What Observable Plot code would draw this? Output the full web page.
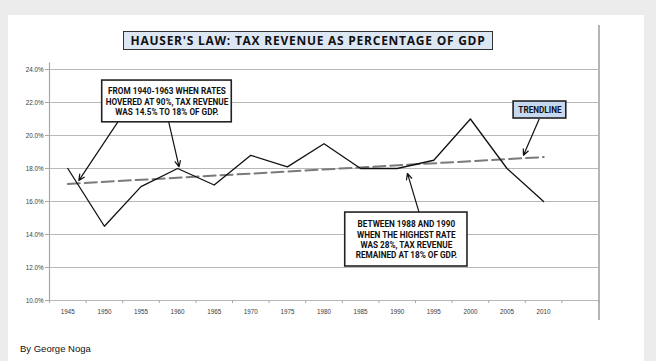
<!DOCTYPE html>
<html>
<head>
<meta charset="utf-8">
<script src="https://cdn.jsdelivr.net/npm/d3@7"></script>
<script src="https://cdn.jsdelivr.net/npm/@observablehq/plot@0.6"></script>
<style>
  html, body { margin: 0; padding: 0; }
  body { width: 656px; height: 361px; background: #ececec; position: relative; overflow: hidden; }
  #panel { position: absolute; left: 8px; top: 15px; width: 636px; height: 346px; background: #fff; }
  #frame { position: absolute; left: 598px; top: 25px; width: 1.5px; height: 295px; background: #b5b5b5; }
  #chart { position: absolute; left: 0; top: 0; }
  #title { position: absolute; left: 123px; top: 31px; width: 368px; height: 17px; border: 1px solid #333;
           background: #dde7f4; font: bold 12px "Open Sans", sans-serif; letter-spacing: 0.75px;
           text-align: center; line-height: 17px; color: #111; white-space: nowrap; }
  #caption { position: absolute; left: 20px; top: 343px; font: 9.5px "Liberation Sans", Arial, sans-serif; color: #111; }
</style>
</head>
<body>
<div id="panel"></div>
<div id="frame"></div>
<div id="chart"></div>
<div id="title">HAUSER'S LAW: TAX REVENUE AS PERCENTAGE OF GDP</div>
<div id="caption">By George Noga</div>
<script>
// ---- data ----
const years = [1945, 1950, 1955, 1960, 1965, 1970, 1975, 1980, 1985, 1990, 1995, 2000, 2005, 2010];
const revenue = [18.0, 14.5, 16.9, 18.0, 17.0, 18.8, 18.1, 19.5, 18.0, 18.0, 18.5, 21.0, 18.0, 16.0];
const yTicks = [10, 12, 14, 16, 18, 20, 22, 24];
const xTickLabels = ["1945","1950","1955","1960","1965","1970","1975","1980","1985","1990","1995","2000","2005","2010"];

// annotations (in data coordinates)
const noteTexts = [
  "FROM 1940-1963 WHEN RATES\nHOVERED AT 90%, TAX REVENUE\nWAS 14.5% TO 18% OF GDP.",
  "TRENDLINE",
  "BETWEEN 1988 AND 1990\nWHEN THE HIGHEST RATE\nWAS 28%, TAX REVENUE\nREMAINED AT 18% OF GDP."
];
const noteBoxes = [
  {x1: 1949.7, x2: 1967.4, y1: 20.8, y2: 23.33, fill: "#ffffff"},
  {x1: 2005.9, x2: 2013.1, y1: 21.03, y2: 22.06, fill: "#c6d9f1"},
  {x1: 1982.9, x2: 1999.6, y1: 12.06, y2: 15.33, fill: "#ffffff"}
];
const arrows = [
  {x1: 1951.8, y1: 20.8, x2: 1946.5, y2: 17.27},
  {x1: 1958.8, y1: 20.8, x2: 1960.2, y2: 18.1},
  {x1: 2009.4, y1: 21.0, x2: 2007.25, y2: 18.8},
  {x1: 1993.0, y1: 15.33, x2: 1991.4, y2: 17.7}
];

const rows = years.map((y, i) => ({year: y, value: revenue[i], label: xTickLabels[i]}));
const notes = noteBoxes.map((b, i) => ({...b, text: noteTexts[i]}));
const edges = d3.range(years.length + 2).map(i => years[0] - 2.5 + 5 * i);

const plot = Plot.plot({
  width: 656,
  height: 361,
  marginLeft: 49,
  marginRight: 58,
  marginTop: 69,
  marginBottom: 61,
  style: {background: "transparent", fontFamily: "'Liberation Sans', Arial, sans-serif", color: "#3a3a3a"},
  x: {domain: [edges[0], edges[edges.length - 1]]},
  y: {domain: [10, 24]},
  marks: [
    Plot.gridY(yTicks, {stroke: "#b8b8b8", strokeOpacity: 1, strokeWidth: 1.2}),
    Plot.ruleX([edges[0]], {y1: 10, y2: 24.4, stroke: "#a8a8a8", strokeWidth: 1.2, clip: false}),
    Plot.axisY(yTicks, {tickSize: 4, tickPadding: 2, fontSize: 6.3, stroke: "#a8a8a8", tickFormat: d => d.toFixed(1) + "%", label: null}),
    Plot.axisX(edges, {tickSize: 3, tickFormat: () => "", stroke: "#a8a8a8", label: null}),
    Plot.axisX(years, {tickSize: 0, tickPadding: 9, fontSize: 6.3, tickFormat: (d, i) => xTickLabels[i], label: null}),
    Plot.linearRegressionY(rows, {x: "year", y: "value", ci: 0, stroke: "#7a7a7a", strokeWidth: 2, strokeDasharray: "12,5"}),
    Plot.line(rows, {x: "year", y: "value", stroke: "#111", strokeWidth: 1.3}),
    Plot.arrow(arrows, {x1: "x1", y1: "y1", x2: "x2", y2: "y2", stroke: "#111", strokeWidth: 1.2, headLength: 8, headAngle: 50}),
    Plot.rect(notes, {x1: "x1", x2: "x2", y1: "y1", y2: "y2", fill: "fill", stroke: "#222", strokeWidth: 1.6}),
    Plot.text(notes, {x: d => (d.x1 + d.x2) / 2, y: d => (d.y1 + d.y2) / 2, text: "text", fontSize: 8.2, fontWeight: "bold",
      lineHeight: 1.27, fill: "#111", fontFamily: "'Liberation Sans Narrow', 'Roboto', sans-serif"})
  ]
});
document.getElementById("chart").appendChild(plot);
</script>
</body>
</html>
